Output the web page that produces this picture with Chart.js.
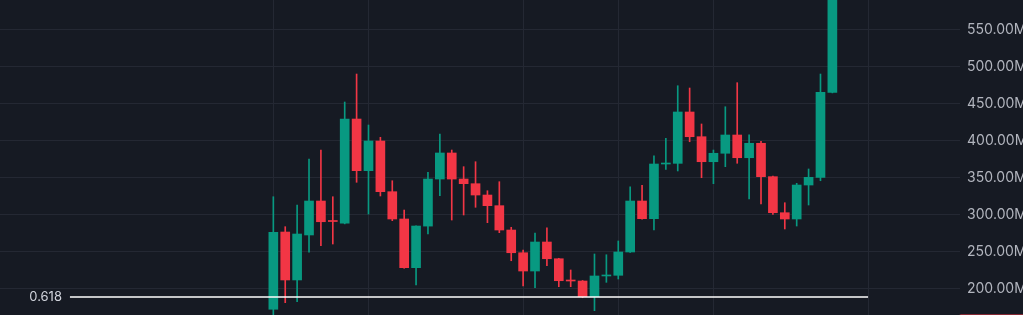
<!DOCTYPE html>
<html>
<head>
<meta charset="utf-8">
<script src="https://cdn.jsdelivr.net/npm/chart.js@4.4.1/dist/chart.umd.min.js"></script>
<style>
  html, body { margin: 0; padding: 0; background: #161a23; }
  #wrap { width: 1023px; height: 315px; position: relative; }
</style>
</head>
<body>
<div id="wrap"><canvas id="candles"></canvas></div>
<script>
// one entry per candle (values in millions)
const opens  = [172.6, 277.0, 212.2, 273.0, 318.9, 291.8, 288.8, 429.7, 359.9, 400.0, 331.5, 294.6, 228.8, 285.0, 348.6, 383.8,
                348.6, 342.3, 327.0, 312.6, 279.7, 249.0, 224.3, 263.5, 240.9, 211.2, 210.8, 189.6, 217.6, 218.5, 250.0, 318.9,
                295.0, 368.9, 369.8, 439.2, 405.8, 372.0, 383.4, 408.1, 377.4, 396.9, 351.8, 303.1, 294.6, 340.5, 350.9, 465.8]
const closes = [276.6, 212.2, 274.3, 318.9, 290.9, 291.2, 429.7, 359.9, 400.0, 331.5, 294.6, 228.8, 285.1, 348.6, 383.8, 348.6,
                342.3, 327.0, 312.6, 279.7, 249.0, 224.3, 263.5, 240.9, 211.2, 210.8, 189.6, 217.6, 218.5, 250.0, 318.9, 295.0,
                368.9, 369.8, 439.2, 405.8, 372.0, 383.4, 408.1, 377.4, 396.9, 351.8, 303.1, 294.6, 340.5, 350.9, 465.8, 610.0]
const highs  = [324.7, 284.2, 313.5, 375.7, 387.8, 324.7, 452.7, 490.5, 421.6, 405.0, 346.3, 306.7, 285.5, 357.7, 409.5, 387.8,
                365.3, 372.0, 332.8, 345.0, 283.4, 252.7, 275.7, 282.8, 241.5, 225.7, 211.5, 247.3, 246.3, 264.9, 338.2, 340.1,
                380.1, 403.6, 474.7, 471.6, 423.0, 387.8, 446.3, 478.8, 408.5, 399.6, 352.5, 316.6, 342.8, 362.2, 490.5, 625.0]
const lows   = [160.0, 181.5, 182.8, 249.6, 258.5, 260.8, 288.0, 344.2, 301.3, 325.7, 292.3, 228.0, 205.4, 274.3, 326.1, 293.2,
                300.0, 310.4, 289.6, 276.1, 238.2, 204.0, 201.7, 231.5, 203.1, 203.1, 188.2, 170.7, 209.0, 213.5, 249.5, 294.5,
                279.7, 361.7, 359.5, 399.0, 350.4, 342.3, 365.3, 369.9, 321.6, 314.9, 300.9, 281.1, 285.1, 313.5, 346.3, 465.0]

const yTicks = [200, 250, 300, 350, 400, 450, 500, 550]
const timeLines = [0, 8, 21, 29, 37, 50]   // candle index of the vertical grid lines

const fibLabel = "0.618"
const fibLevel = 189.2
const fibSpan = [-17.1, 50]
const tagLevel = 152   // red price tag, mostly below the view

const up = "#089981"
const down = "#f23645"
const gridColor = "#242833"

var idx = opens.map((o, i) => i)
var colors = idx.map((i) => closes[i] >= opens[i] ? up : down)

var fibPlugin = {
    id: "fibPlugin",
    afterDatasetsDraw(chart) {
        const { ctx, scales: { x, y } } = chart
        ctx.save()
        ctx.font = "13px Inter"
        ctx.fillStyle = "#d1d4dc"
        ctx.textAlign = "right"
        ctx.textBaseline = "middle"
        ctx.fillText(fibLabel, x.getPixelForValue(fibSpan[0]) - 8, y.getPixelForValue(fibLevel))
        ctx.restore()
    },
    afterDraw(chart) {
        const { ctx, chartArea, scales: { y } } = chart
        const yc = y.getPixelForValue(tagLevel)
        ctx.save()
        ctx.fillStyle = down
        ctx.beginPath()
        ctx.roundRect(chartArea.right - 2, yc - 10, 80, 20, 3)
        ctx.fill()
        ctx.restore()
    }
}

function noPad(s) {
    s.paddingTop = 0
    s.paddingBottom = 0
    s.paddingLeft = 0
    s.paddingRight = 0
}

new Chart(document.getElementById("candles"), {
    type: "bar",
    data: {
        datasets: [{
            type: "line",
            data: fibSpan.map((v) => ({ x: v, y: fibLevel })),
            borderColor: "#ffffff",
            borderWidth: 1.3,
            pointRadius: 0,
            order: 0
        }, {
            // wicks
            data: idx.map((i) => ({ x: i, y: [lows[i], highs[i]] })),
            backgroundColor: colors,
            barThickness: 1,
            grouped: false,
            order: 2
        }, {
            // bodies
            data: idx.map((i) => ({ x: i, y: [opens[i], closes[i]] })),
            backgroundColor: colors,
            barThickness: 9,
            minBarLength: 1,
            grouped: false,
            order: 1
        }]
    },
    options: {
        responsive: true,
        maintainAspectRatio: false,
        animation: false,
        layout: { padding: 0 },
        plugins: { legend: { display: false }, tooltip: { enabled: false } },
        scales: {
            x: {
                type: "linear",
                min: -22.98,
                max: 57.73,
                offset: false,
                grid: { color: gridColor, drawTicks: false, offset: false },
                border: { display: false },
                ticks: { display: false },
                afterBuildTicks: (s) => { s.ticks = timeLines.map((v) => ({ value: v })) },
                afterFit: (s) => { s.height = 0; noPad(s) }
            },
            y: {
                position: "right",
                min: 164.86,
                max: 590.54,
                grid: { color: gridColor, drawTicks: false },
                border: { display: false },
                ticks: {
                    color: "#b2b5be",
                    font: { family: "Inter", size: 14 },
                    padding: 7,
                    callback: (v) => v.toFixed(2) + "M"
                },
                afterBuildTicks: (s) => { s.ticks = yTicks.map((v) => ({ value: v })) },
                afterFit: (s) => { s.width = 63; noPad(s) }
            }
        }
    },
    plugins: [fibPlugin]
})
</script>
</body>
</html>
